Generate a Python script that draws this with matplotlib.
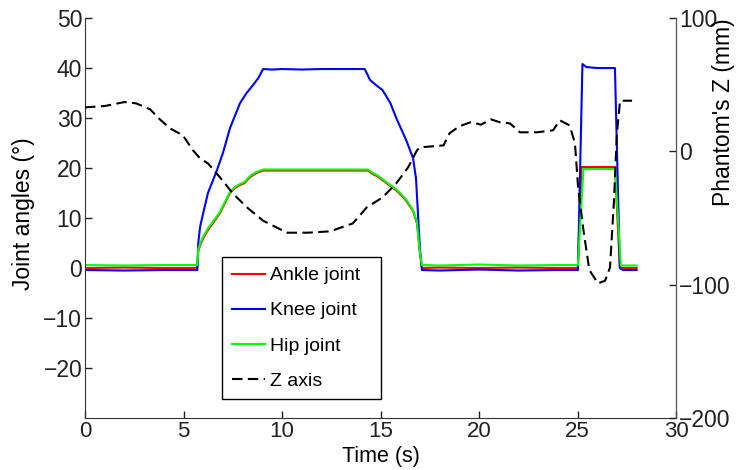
import matplotlib
matplotlib.use("Agg")
import matplotlib.pyplot as plt

plt.rcParams['font.family'] = ['Liberation Sans', 'DejaVu Sans']

# time (s) and joint angles (deg)
t_knee = [0, 2, 4, 5.7, 5.75, 5.84, 6.0, 6.24, 6.7, 7.0, 7.36, 7.87, 8.2, 8.53, 8.8, 9.04,
          9.5, 10, 11, 12, 13, 14.2, 14.47, 14.8, 15.1, 15.5, 15.8, 16.3, 16.65, 16.8,
          17.0, 17.1, 18, 20, 22, 24, 25.02, 25.25, 25.45, 26.0, 26.9, 27.15, 27.3, 28]
knee = [-0.4, -0.5, -0.4, -0.4, 5, 8.2, 11, 15, 19.6, 23, 28, 33, 35, 36.6, 38, 39.8,
        39.7, 39.8, 39.7, 39.8, 39.8, 39.8, 37.6, 36.5, 35.6, 33, 30, 25.6, 22, 18,
        4, -0.4, -0.5, -0.3, -0.5, -0.4, -0.4, 40.8, 40.2, 40.0, 40.0, 0, -0.4, -0.4]

t_ankle = [0, 2, 4, 5.7, 5.75, 5.84, 6.0, 6.24, 6.5, 6.85, 7.1, 7.36, 7.6, 7.87, 8.1,
           8.38, 8.7, 9.04, 10, 12, 14.37, 14.6, 14.82, 15.3, 15.84, 16.3, 16.65, 16.85,
           17.0, 17.1, 18, 20, 22, 24, 25.02, 25.2, 26.0, 26.9, 27.15, 27.3, 28]
ankle = [0, 0.1, 0, 0, 3.5, 4.5, 6, 7.6, 9, 11, 13, 15, 16, 16.6, 17,
         18.2, 19, 19.5, 19.5, 19.5, 19.5, 18.8, 18.4, 17, 15.4, 13.5, 11.4, 9,
         3, 0, 0.1, 0, 0.1, 0, 0, 20.2, 20.2, 20.2, 0, 0, 0]

t_hip = [0, 2, 4, 5.7, 5.75, 5.84, 6.0, 6.24, 6.5, 6.85, 7.1, 7.36, 7.6, 7.87, 8.1,
         8.38, 8.7, 9.04, 10, 12, 14.37, 14.6, 14.82, 15.3, 15.84, 16.3, 16.65, 16.85,
         17.0, 17.1, 18, 20, 22, 24, 25.02, 25.3, 26.0, 26.9, 27.2, 27.3, 28]
hip = [0.6, 0.5, 0.6, 0.6, 3.8, 4.8, 6.3, 7.9, 9.3, 11.2, 13.2, 15.2, 16.2, 16.8, 17.2,
       18.4, 19.2, 19.7, 19.7, 19.7, 19.7, 19.0, 18.6, 17.2, 15.6, 13.7, 11.6, 9.2,
       3.2, 0.6, 0.5, 0.7, 0.5, 0.6, 0.6, 19.8, 19.8, 19.8, 0.5, 0.5, 0.5]

# phantom Z (mm)
t_z = [0, 1, 2.0, 2.6, 3.3, 3.8, 4.31, 4.97, 5.48, 5.84, 6.24, 6.85, 7.51, 8.22, 9.04,
       10.25, 11.3, 12.44, 13.6, 14.3, 15.1, 15.8, 16.4, 16.85, 17.0, 18.2, 18.5,
       19.0, 19.6, 20.1, 20.6, 21.07, 21.57, 22.08, 22.94, 23.76, 24.1, 24.6, 24.87,
       25.03, 25.3, 25.6, 26.04, 26.4, 26.65, 26.85, 27.0, 27.16, 27.77]
z = [33, 34, 37, 36, 31.6, 24, 17.3, 12, 0.8, -5.3, -9, -19.5, -31.6, -42, -52,
     -61, -61, -60, -54, -42, -34.6, -24, -12, 0.8, 3, 4.5, 13.5,
     18.8, 22, 20, 24, 21.8, 21, 14.3, 14.3, 15.8, 23.3, 19.5, 6,
     -27, -59, -89, -99, -97, -87, -37, 13.5, 38, 38]

fig = plt.figure(figsize=(7.36, 4.70), dpi=100)
ax = fig.add_axes([0.1155, 0.1106, 0.803, 0.851])
ax2 = ax.twinx()

l1, = ax.plot(t_ankle, ankle, color='#ff0000', lw=1.5, label='Ankle joint')
l2, = ax.plot(t_knee, knee, color='#0000ff', lw=1.5, label='Knee joint')
l3, = ax.plot(t_hip, hip, color='#00ff00', lw=1.5, label='Hip joint')
l4, = ax2.plot(t_z, z, color='black', lw=1.5, linestyle=(0, (5, 2.6)), label='Z axis')

ax.set_xlim(0, 30)
ax.set_ylim(-30, 50)
ax.set_xticks(range(0, 31, 5))
ax.set_yticks(range(-20, 51, 10))
ax.set_yticklabels([str(v).replace('-', '\u2212') for v in range(-20, 51, 10)])
ax2.set_ylim(-200, 100)
ax2.set_yticks([-200, -100, 0, 100])
ax2.set_yticklabels(['\u2212200', '\u2212100', '0', '100'])

ax.set_xlabel('Time (s)', fontsize=15.5)
ax.set_ylabel('Joint angles (°)', fontsize=16.5)
ax2.set_ylabel("Phantom's Z (mm)", fontsize=16.5)
ax.xaxis.set_label_coords(0.5, -0.07)
ax.yaxis.set_label_coords(-0.084, 0.51)
ax2.yaxis.set_label_coords(1.061, 0.765)

for a in (ax, ax2):
    a.spines['top'].set_visible(False)
    a.tick_params(direction='in', labelsize=16.5, length=5, width=1, colors='#222222')
ax.spines['left'].set_color('#333333')
ax.spines['bottom'].set_color('#333333')
ax2.spines['right'].set_color('#555555')
ax2.spines['left'].set_visible(False)
ax2.spines['bottom'].set_visible(False)
ax.tick_params(axis='x', pad=2.2, labelsize=16)
ax.tick_params(axis='y', pad=2)
ax2.tick_params(axis='y', pad=2)

leg = ax2.legend(handles=[l1, l2, l3, l4], loc='upper left',
                 bbox_to_anchor=(0.232, 0.0375, 0.269, 0.365), mode='expand',
                 borderaxespad=0, fontsize=14, fancybox=False,
                 edgecolor='black', framealpha=1, handlelength=1.7,
                 handletextpad=0.25, labelspacing=0.9, borderpad=0.5)
leg.get_frame().set_linewidth(1.0)

fig.savefig('out.png', dpi=100)
